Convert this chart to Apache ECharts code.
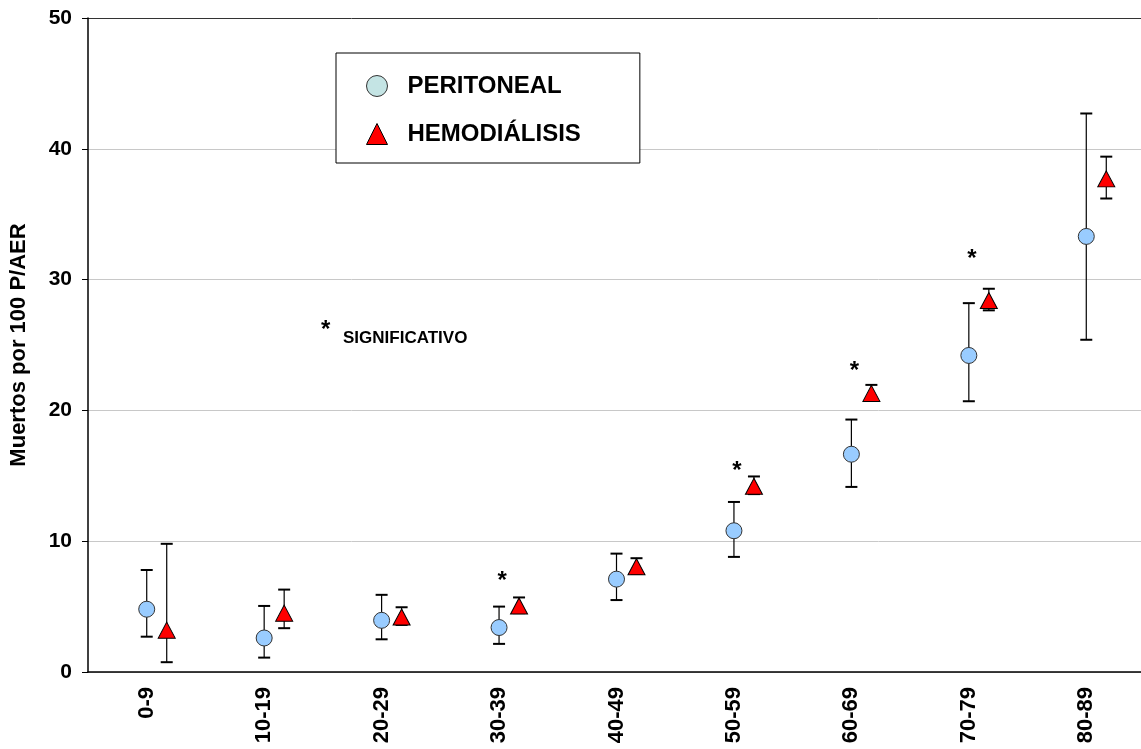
<!DOCTYPE html>
<html>
<head>
<meta charset="utf-8">
<script src="https://cdn.jsdelivr.net/npm/echarts@6/dist/echarts.min.js"></script>
<style>
  html, body { margin: 0; padding: 0; background: #fff; overflow: hidden; }
  #chart { width: 1141px; height: 749px; }
</style>
</head>
<body>
<div id="chart"></div>
<script>
const categories = ['0-9', '10-19', '20-29', '30-39', '40-49', '50-59', '60-69', '70-79', '80-89'];

const peritoneal     = [4.8, 2.6, 3.95, 3.4, 7.1, 10.8, 16.65, 24.2, 33.3];
const peritonealLow  = [2.7, 1.1, 2.5, 2.15, 5.5, 8.8, 14.15, 20.7, 25.4];
const peritonealHigh = [7.8, 5.05, 5.9, 5.0, 9.05, 13.0, 19.3, 28.2, 42.7];

const hemodialisis     = [3.2, 4.5, 4.2, 5.05, 8.05, 14.2, 21.3, 28.4, 37.7];
const hemodialisisLow  = [0.75, 3.35, 3.6, 4.5, 7.5, 13.6, 20.8, 27.65, 36.2];
const hemodialisisHigh = [9.8, 6.3, 4.95, 5.7, 8.7, 14.95, 21.95, 29.3, 39.4];

// asterisks (significant differences)
const starCategories = ['30-39', '50-59', '60-69', '70-79'];
const starValues = [7.3, 15.7, 23.4, 31.9];

const yTicks = [0, 10, 20, 30, 40, 50];

const font = '"Liberation Sans", Arial, sans-serif';
const hemoShift = 20;

const chart = echarts.init(document.getElementById('chart'));

const errorBar = (shift) => (params, api) => {
    const idx = api.value(0);
    const x = api.coord([idx, 0])[0] + shift;
    const lo = api.coord([idx, api.value(1)])[1];
    const hi = api.coord([idx, api.value(2)])[1];
    const cap = 6;
    return {
        type: 'group',
        children: [
            { type: 'line', shape: { x1: x, y1: lo, x2: x, y2: hi }, style: { stroke: '#000', lineWidth: 1.2 } },
            { type: 'line', shape: { x1: x - cap, y1: hi, x2: x + cap, y2: hi }, style: { stroke: '#000', lineWidth: 2 } },
            { type: 'line', shape: { x1: x - cap, y1: lo, x2: x + cap, y2: lo }, style: { stroke: '#000', lineWidth: 2 } }
        ]
    };
};

const option = {
    animation: false,
    backgroundColor: '#fff',
    grid: { left: 88, right: -4, top: 18, bottom: 77, outerBoundsMode: 'none', containLabel: false },
    legend: {
        orient: 'vertical',
        left: 336,
        top: 53,
        padding: [21, 59, 17, 30],
        itemGap: 24,
        itemWidth: 21,
        itemHeight: 21,
        backgroundColor: '#fff',
        borderColor: '#000',
        borderWidth: 1,
        borderRadius: 0,
        selectedMode: false,
        formatter: name => '{t|' + name + '}',
        textStyle: {
            rich: {
                t: { fontFamily: font, fontSize: 24, fontWeight: 'bold', color: '#000', padding: [0, 0, 0, 15], lineHeight: 21 }
            }
        },
        data: [
            { name: 'PERITONEAL', icon: 'circle', itemStyle: { color: '#c4e4e4', borderColor: '#333', borderWidth: 1 } },
            { name: 'HEMODIÁLISIS', icon: 'triangle', itemStyle: { color: '#ff0000', borderColor: '#000', borderWidth: 1 } }
        ]
    },
    xAxis: [
        {
            type: 'category',
            data: categories,
            boundaryGap: true,
            axisLine: { lineStyle: { color: '#000', width: 1.5 } },
            axisTick: { length: 7, lineStyle: { color: '#000' } },
            axisLabel: {
                rotate: 90,
                margin: 15,
                color: '#000',
                fontFamily: font,
                fontSize: 22,
                fontWeight: 'bold'
            }
        },
        {
            type: 'category',
            data: categories,
            position: 'bottom',
            boundaryGap: true,
            axisLine: { show: false },
            axisTick: { inside: true, length: 7, lineStyle: { color: '#000' } },
            axisLabel: { show: false }
        }
    ],
    yAxis: {
        type: 'value',
        min: 0,
        max: 50,
        interval: 10,
        name: 'Muertos por 100 P/AER',
        nameLocation: 'middle',
        nameRotate: 90,
        nameGap: 58,
        nameTextStyle: { fontFamily: font, fontSize: 22, fontWeight: 'bold', color: '#000' },
        axisLine: { show: true, lineStyle: { color: '#000', width: 1.5 } },
        axisTick: { show: true, length: 6, lineStyle: { color: '#000' } },
        axisLabel: {
            margin: 16,
            color: '#000',
            fontFamily: font,
            fontSize: 21,
            fontWeight: 'bold',
            formatter: v => yTicks.includes(v) ? String(v) : ''
        },
        splitLine: {
            show: true,
            lineStyle: { color: ['#c8c8c8', '#c8c8c8', '#c8c8c8', '#c8c8c8', '#c8c8c8', '#333'], width: 1 }
        }
    },
    graphic: [
        {
            type: 'text', left: 321, top: 318,
            style: { text: '*', fontFamily: font, fontSize: 24, fontWeight: 'bold', fill: '#000' }
        },
        {
            type: 'text', left: 343, top: 330,
            style: { text: 'SIGNIFICATIVO', fontFamily: font, fontSize: 17, fontWeight: 'bold', fill: '#000' }
        }
    ],
    series: [
        {
            type: 'custom',
            z: 1,
            renderItem: errorBar(0),
            data: categories.map((c, i) => [i, peritonealLow[i], peritonealHigh[i]]),
            silent: true
        },
        {
            type: 'custom',
            z: 1,
            renderItem: errorBar(hemoShift),
            data: categories.map((c, i) => [i, hemodialisisLow[i], hemodialisisHigh[i]]),
            silent: true
        },
        {
            name: 'PERITONEAL',
            type: 'scatter',
            z: 3,
            symbol: 'circle',
            symbolSize: 16,
            itemStyle: { color: '#99ccff', borderColor: '#333', borderWidth: 1, opacity: 1 },
            data: categories.map((c, i) => [i, peritoneal[i]])
        },
        {
            name: 'HEMODIÁLISIS',
            type: 'scatter',
            z: 3,
            symbol: 'triangle',
            symbolSize: [17, 16],
            symbolOffset: [hemoShift, 0],
            itemStyle: { color: '#ff0000', borderColor: '#000', borderWidth: 1, opacity: 1 },
            data: categories.map((c, i) => [i, hemodialisis[i]])
        },
        {
            type: 'custom',
            z: 4,
            silent: true,
            renderItem: (params, api) => {
                const p = api.coord([api.value(0), api.value(1)]);
                return {
                    type: 'text',
                    x: p[0] + 3,
                    y: p[1] + 5,
                    style: {
                        text: '*', fontFamily: font, fontSize: 24, fontWeight: 'bold',
                        fill: '#000', align: 'center', verticalAlign: 'middle'
                    }
                };
            },
            data: starCategories.map((c, i) => [categories.indexOf(c), starValues[i]])
        }
    ]
};

chart.setOption(option);
</script>
</body>
</html>
